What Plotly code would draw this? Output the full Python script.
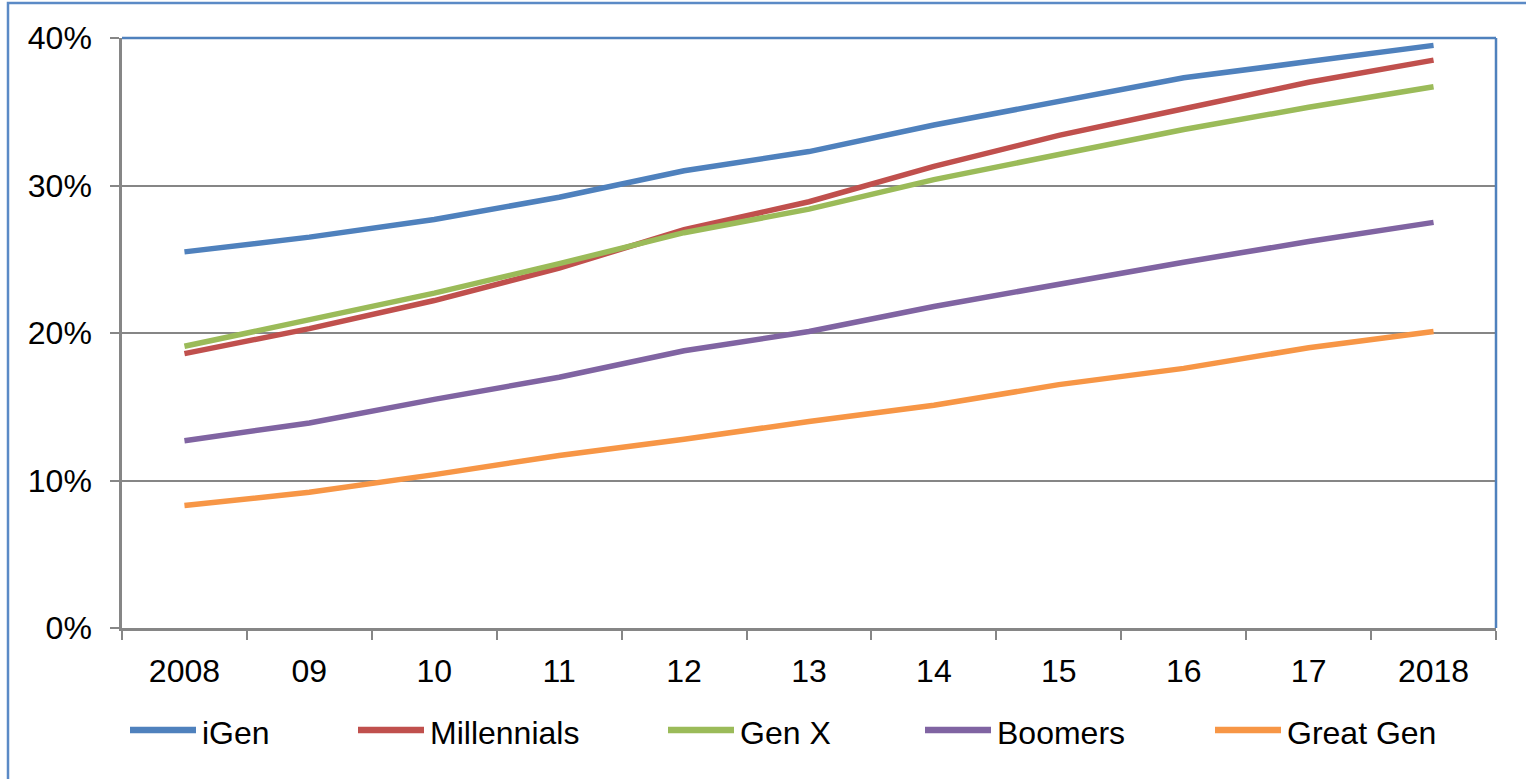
import plotly.graph_objects as go

# Share of each generation, 2008-2018 (percent)
years = ["2008", "09", "10", "11", "12", "13", "14", "15", "16", "17", "2018"]
igen = [25.5, 26.5, 27.7, 29.2, 31.0, 32.3, 34.1, 35.7, 37.3, 38.4, 39.5]
millennials = [18.6, 20.3, 22.2, 24.4, 27.0, 28.9, 31.3, 33.4, 35.2, 37.0, 38.5]
gen_x = [19.1, 20.9, 22.7, 24.7, 26.8, 28.4, 30.4, 32.1, 33.8, 35.3, 36.7]
boomers = [12.7, 13.9, 15.5, 17.0, 18.8, 20.1, 21.8, 23.3, 24.8, 26.2, 27.5]
great_gen = [8.3, 9.2, 10.4, 11.7, 12.8, 14.0, 15.1, 16.5, 17.6, 19.0, 20.1]

series_names = ["iGen", "Millennials", "Gen X", "Boomers", "Great Gen"]
series_values = [igen, millennials, gen_x, boomers, great_gen]
colors = ["#4F81BD", "#C0504D", "#9BBB59", "#8064A2", "#F79646"]

W, H = 1526, 779
L, R, T, B = 122, 30, 38, 151
PW, PH = W - L - R, H - T - B
FONT = "Liberation Sans, Arial, sans-serif"
FS = 32


def px_x(x):
    return (x - L) / PW


def px_y(y):
    return (H - B - y) / PH


fig = go.Figure()
for name, vals, col in zip(series_names, series_values, colors):
    fig.add_trace(go.Scatter(
        x=years, y=vals, name=name, mode="lines",
        line=dict(color=col, width=5.5), showlegend=False,
    ))

shapes = []
# outer chart frame
shapes.append(dict(type="rect", xref="paper", yref="paper",
                   x0=px_x(8), x1=px_x(W + 20), y0=px_y(H + 20), y1=px_y(3),
                   line=dict(color="#5B8AC6", width=2.5), layer="above"))
# plot-area frame: top and right edges
shapes.append(dict(type="line", xref="paper", yref="paper",
                   x0=0, x1=1, y0=1, y1=1,
                   line=dict(color="#4F81BD", width=2.5), layer="above"))
shapes.append(dict(type="line", xref="paper", yref="paper",
                   x0=1, x1=1, y0=0, y1=1,
                   line=dict(color="#4F81BD", width=2.5), layer="above"))

# legend row drawn beneath the axis
legend_starts = [130, 358, 668, 925, 1215]
legend_y = 730
annotations = []
for name, col, x0 in zip(series_names, colors, legend_starts):
    shapes.append(dict(type="line", xref="paper", yref="paper",
                       x0=px_x(x0), x1=px_x(x0 + 66),
                       y0=px_y(legend_y), y1=px_y(legend_y),
                       line=dict(color=col, width=6.5)))
    annotations.append(dict(xref="paper", yref="paper",
                            x=px_x(x0 + 70), y=px_y(733),
                            xanchor="left", yanchor="middle",
                            text=name, showarrow=False,
                            font=dict(family=FONT, size=FS, color="#000000")))

fig.update_layout(
    width=W, height=H,
    margin=dict(l=L, r=R, t=T, b=B, pad=0),
    paper_bgcolor="white", plot_bgcolor="white",
    font=dict(family=FONT, size=FS, color="#000000"),
    shapes=shapes, annotations=annotations,
    showlegend=False,
)
fig.update_xaxes(
    type="category", categoryorder="array", categoryarray=years,
    range=[-0.5, len(years) - 0.5],
    tickson="boundaries", ticks="outside", ticklen=9, tickwidth=2,
    tickcolor="#868686", showgrid=False,
    showline=True, linecolor="#868686", linewidth=2.5,
    ticklabelstandoff=13,
    tickfont=dict(family=FONT, size=FS, color="#000000"),
)
fig.update_yaxes(
    range=[0, 40], tickvals=[0, 10, 20, 30, 40],
    ticktext=["0%", "10%", "20%", "30%", "40%"],
    ticks="outside", ticklen=9, tickwidth=2, tickcolor="#868686",
    showgrid=True, gridcolor="#868686", gridwidth=2,
    showline=True, linecolor="#868686", linewidth=2.5,
    zeroline=False, ticklabelstandoff=12,
    tickfont=dict(family=FONT, size=FS, color="#000000"),
)

fig.write_html("out.html")
